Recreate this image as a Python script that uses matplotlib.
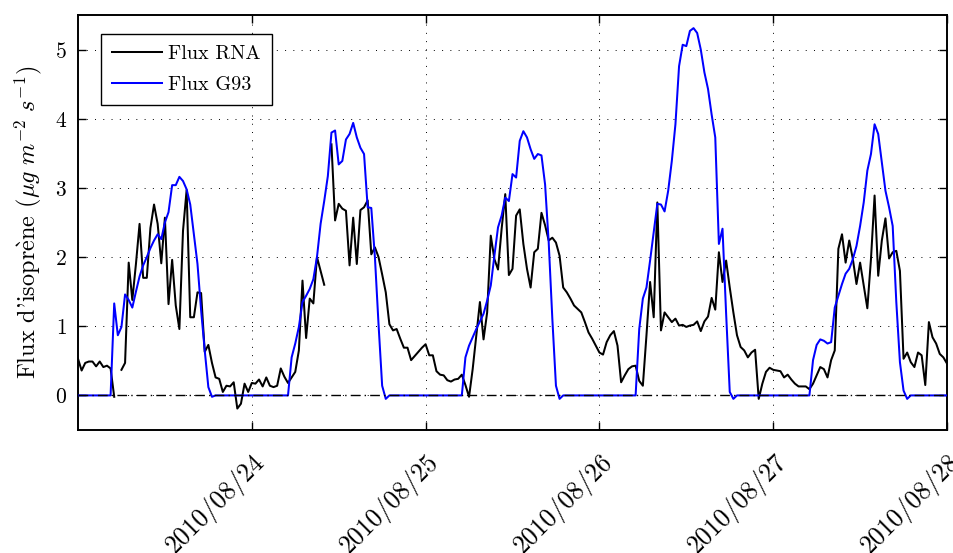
import numpy as np
import pandas as pd
import matplotlib
matplotlib.use("Agg")
import matplotlib.pyplot as plt
import matplotlib.dates as mdates

nan = np.nan

# Half-hourly series starting 2010-08-23 00:00
start_time = "2010-08-23 00:00"
step = "30min"

flux_rna = [
    0.53, 0.36, 0.47, 0.49, 0.49, 0.42, 0.49, 0.41, 0.43, 0.39,
    -0.02, nan, 0.37, 0.47, 1.92, 1.38, 1.90, 2.48, 1.70, 1.70,
    2.42, 2.76, 2.48, 1.91, 2.57, 1.32, 1.96, 1.30, 0.96, 2.38,
    2.97, 1.13, 1.13, 1.49, 1.48, 0.63, 0.73, 0.47, 0.26, 0.24,
    0.05, 0.14, 0.13, 0.19, -0.19, -0.12, 0.17, 0.05, 0.18, 0.17,
    0.23, 0.13, 0.26, 0.14, 0.12, 0.14, 0.39, 0.27, 0.18, 0.26,
    0.34, 0.65, 1.66, 0.83, 1.40, 1.33, 2.00, 1.80, 1.60, nan,
    3.63, 2.53, 2.77, 2.70, 2.67, 1.88, 2.57, 1.90, 2.68, 2.72,
    2.82, 2.04, 2.14, 2.00, 1.75, 1.49, 1.03, 0.94, 0.96, 0.82,
    0.69, 0.69, 0.51, 0.57, 0.63, 0.69, 0.74, 0.58, 0.58, 0.35,
    0.30, 0.29, 0.22, 0.20, 0.23, 0.24, 0.30, 0.15, -0.02, 0.38,
    0.87, 1.35, 0.81, 1.20, 2.31, 1.97, 1.82, 2.41, 2.91, 1.74,
    1.83, 2.60, 2.69, 2.19, 1.83, 1.56, 2.07, 2.12, 2.64, 2.46,
    2.24, 2.28, 2.21, 2.02, 1.56, 1.49, 1.40, 1.30, 1.25, 1.20,
    1.06, 0.91, 0.82, 0.72, 0.62, 0.59, 0.77, 0.87, 0.93, 0.72,
    0.19, 0.29, 0.38, 0.42, 0.43, 0.21, 0.14, 0.87, 1.64, 1.13,
    2.79, 0.94, 1.20, 1.13, 1.06, 1.11, 1.01, 1.02, 0.99, 1.01,
    1.02, 1.07, 0.93, 1.07, 1.14, 1.41, 1.24, 2.07, 1.64, 1.95,
    1.56, 1.20, 0.87, 0.70, 0.65, 0.55, 0.62, 0.66, -0.05, 0.17,
    0.34, 0.40, 0.37, 0.36, 0.35, 0.26, 0.30, 0.23, 0.17, 0.13,
    0.13, 0.13, 0.09, 0.17, 0.29, 0.41, 0.38, 0.26, 0.51, 0.65,
    2.12, 2.33, 1.92, 2.24, 1.97, 1.61, 1.92, 1.59, 1.26, 1.97,
    2.89, 1.73, 2.24, 2.56, 1.98, 2.07, 2.09, 1.80, 0.53, 0.62,
    0.48, 0.41, 0.62, 0.58, 0.15, 1.06, 0.84, 0.75, 0.60, 0.55,
    0.46,
]

flux_g93 = [
    0.00, 0.00, 0.00, 0.00, 0.00, 0.00, 0.00, 0.00, 0.00, 0.00,
    1.33, 0.87, 0.99, 1.46, 1.38, 1.27, 1.50, 1.72, 1.88, 2.00,
    2.13, 2.24, 2.33, 2.26, 2.50, 2.65, 3.04, 3.04, 3.16, 3.10,
    2.98, 2.76, 2.33, 1.90, 1.23, 0.65, 0.12, -0.02, 0.00, 0.00,
    0.00, 0.00, 0.00, 0.00, 0.00, 0.00, 0.00, 0.00, 0.00, 0.00,
    0.00, 0.00, 0.00, 0.00, 0.00, 0.00, 0.00, 0.00, 0.00, 0.55,
    0.75, 0.99, 1.35, 1.44, 1.54, 1.68, 2.00, 2.48, 2.81, 3.17,
    3.80, 3.83, 3.34, 3.39, 3.70, 3.78, 3.94, 3.73, 3.58, 3.49,
    2.72, 2.71, 2.00, 1.03, 0.14, -0.05, 0.00, 0.00, 0.00, 0.00,
    0.00, 0.00, 0.00, 0.00, 0.00, 0.00, 0.00, 0.00, 0.00, 0.00,
    0.00, 0.00, 0.00, 0.00, 0.00, 0.00, 0.00, 0.55, 0.72, 0.84,
    0.96, 1.07, 1.18, 1.37, 1.59, 2.02, 2.43, 2.60, 2.86, 2.81,
    3.20, 3.15, 3.68, 3.82, 3.73, 3.56, 3.42, 3.49, 3.47, 3.05,
    2.21, 1.11, 0.14, -0.05, 0.00, 0.00, 0.00, 0.00, 0.00, 0.00,
    0.00, 0.00, 0.00, 0.00, 0.00, 0.00, 0.00, 0.00, 0.00, 0.00,
    0.00, 0.00, 0.00, 0.00, 0.00, 0.96, 1.40, 1.56, 1.95, 2.36,
    2.77, 2.76, 2.66, 2.96, 3.39, 3.92, 4.76, 5.07, 5.05, 5.27,
    5.31, 5.24, 5.00, 4.67, 4.43, 4.06, 3.73, 2.19, 2.41, 1.18,
    0.05, -0.05, 0.00, 0.00, 0.00, 0.00, 0.00, 0.00, 0.00, 0.00,
    0.00, 0.00, 0.00, 0.00, 0.00, 0.00, 0.00, 0.00, 0.00, 0.00,
    0.00, 0.00, 0.00, 0.51, 0.73, 0.81, 0.79, 0.75, 0.77, 1.27,
    1.44, 1.61, 1.76, 1.83, 1.97, 2.16, 2.45, 2.79, 3.25, 3.49,
    3.92, 3.78, 3.37, 2.96, 2.72, 2.45, 1.35, 0.48, 0.07, -0.05,
    0.00, 0.00, 0.00, 0.00, 0.00, 0.00, 0.00, 0.00, 0.00, 0.00,
    0.00,
]

series_labels = ["Flux RNA", "Flux G93"]
x_tick_dates = ["2010-08-24", "2010-08-25", "2010-08-26", "2010-08-27", "2010-08-28"]
y_ticks = [0, 1, 2, 3, 4, 5]
x_limits = ["2010-08-23", "2010-08-28"]
y_limits = [-0.5, 5.5]

plt.rcParams["font.family"] = ["cmr10", "DejaVu Serif"]
plt.rcParams["mathtext.fontset"] = "cm"
plt.rcParams["axes.unicode_minus"] = False
plt.rcParams["axes.formatter.use_mathtext"] = True

times = pd.date_range(start_time, periods=len(flux_rna), freq=step)

fig = plt.figure(figsize=(9.54, 5.53), dpi=100)
ax = fig.add_axes([78 / 954, 1 - 430 / 553, 869 / 954, 415 / 553])

ax.plot(times, flux_rna, color="black", lw=1.45, label=series_labels[0], zorder=3)
ax.plot(times, flux_g93, color="#0000ff", lw=1.45, label=series_labels[1], zorder=3)
ax.axhline(0, color="black", lw=1.0, linestyle=(0, (7, 3, 1, 3)), zorder=4)

ax.set_xlim(pd.Timestamp(x_limits[0]), pd.Timestamp(x_limits[1]))
ax.set_ylim(*y_limits)
ax.set_yticks(y_ticks)
ax.set_xticks([pd.Timestamp(d) for d in x_tick_dates])
ax.xaxis.set_major_formatter(mdates.DateFormatter("%Y/%m/%d"))

ax.grid(True, color="black", lw=0.7, linestyle=(0, (1, 7.5)))
ax.set_axisbelow(True)

for s in ax.spines.values():
    s.set_linewidth(1.4)

ax.tick_params(direction="in", top=True, right=True, length=5.5, width=1.0)
ax.tick_params(axis="y", pad=8, labelsize=15.5)
ax.tick_params(axis="x", pad=14, labelsize=18.5)
for lab in ax.get_xticklabels():
    lab.set_rotation(45)
    lab.set_ha("right")
    lab.set_va("top")
    lab.set_rotation_mode("anchor")

ax.set_ylabel(r"Flux d'isopr$\grave{\mathrm{e}}$ne ($\mu g\ m^{-2}\ s^{-1}$)",
              fontsize=17.5, labelpad=8)

leg = ax.legend(loc="upper left", bbox_to_anchor=(23 / 869, 1 - 19 / 415),
                borderaxespad=0, fancybox=False, framealpha=1,
                edgecolor="black", handlelength=2.5, handletextpad=0.3,
                labelspacing=0.65, borderpad=0.55, fontsize=14.5)
leg.get_frame().set_linewidth(1.0)

fig.savefig("out.png", dpi=100)
